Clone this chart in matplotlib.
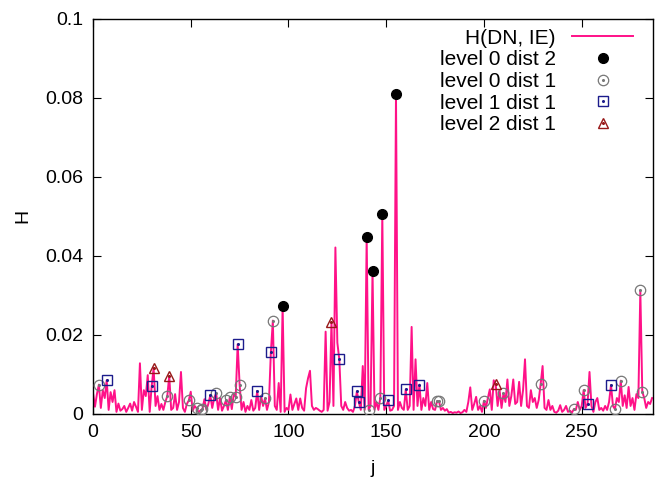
import matplotlib
matplotlib.use("Agg")
from matplotlib import pyplot as plt
from matplotlib.legend_handler import HandlerTuple
from matplotlib.ticker import FuncFormatter

plt.rcParams["font.family"] = ["Liberation Sans", "DejaVu Sans"]
plt.rcParams["font.size"] = 14

# H(DN, IE) for j = 0 .. 286
H = [
    0.0053, 0.0018, 0.0050, 0.0074, 0.0015, 0.0060, 0.0040, 0.0085, 0.0010, 0.0055,
    0.0030, 0.0060, 0.0005, 0.0026, 0.0008, 0.0012, 0.0020, 0.0005, 0.0015, 0.0026,
    0.0008, 0.0030, 0.0018, 0.0005, 0.0128, 0.0010, 0.0060, 0.0045, 0.0098, 0.0005,
    0.0070, 0.0116, 0.0020, 0.0045, 0.0010, 0.0025, 0.0010, 0.0030, 0.0045, 0.0096,
    0.0010, 0.0015, 0.0050, 0.0010, 0.0030, 0.0106, 0.0015, 0.0005, 0.0025, 0.0034,
    0.0056, 0.0008, 0.0020, 0.0014, 0.0004, 0.0009, 0.0012, 0.0037, 0.0010, 0.0025,
    0.0047, 0.0015, 0.0040, 0.0052, 0.0010, 0.0040, 0.0008, 0.0020, 0.0034, 0.0010,
    0.0043, 0.0012, 0.0050, 0.0043, 0.0176, 0.0074, 0.0010, 0.0030, 0.0005, 0.0020,
    0.0010, 0.0035, 0.0008, 0.0015, 0.0058, 0.0010, 0.0045, 0.0020, 0.0039, 0.0010,
    0.0030, 0.0157, 0.0236, 0.0020, 0.0010, 0.0078, 0.0005, 0.0273, 0.0005, 0.0015,
    0.0010, 0.0049, 0.0010, 0.0025, 0.0039, 0.0010, 0.0039, 0.0015, 0.0008, 0.0065,
    0.0090, 0.0109, 0.0020, 0.0010, 0.0015, 0.0012, 0.0008, 0.0005, 0.0010, 0.0208,
    0.0008, 0.0030, 0.0233, 0.0020, 0.0421, 0.0180, 0.0138, 0.0020, 0.0010, 0.0030,
    0.0015, 0.0008, 0.0010, 0.0005, 0.0020, 0.0057, 0.0029, 0.0010, 0.0121, 0.0010,
    0.0447, 0.0010, 0.0020, 0.0362, 0.0010, 0.0030, 0.0010, 0.0041, 0.0505, 0.0010,
    0.0020, 0.0034, 0.0008, 0.0010, 0.0020, 0.0809, 0.0010, 0.0030, 0.0015, 0.0010,
    0.0062, 0.0010, 0.0020, 0.0220, 0.0010, 0.0138, 0.0020, 0.0074, 0.0010, 0.0040,
    0.0020, 0.0078, 0.0010, 0.0030, 0.0012, 0.0010, 0.0032, 0.0032, 0.0010, 0.0015,
    0.0008, 0.0012, 0.0003, 0.0005, 0.0002, 0.0004, 0.0003, 0.0006, 0.0002, 0.0004,
    0.0010, 0.0005, 0.0030, 0.0067, 0.0010, 0.0025, 0.0043, 0.0010, 0.0020, 0.0005,
    0.0033, 0.0015, 0.0040, 0.0062, 0.0010, 0.0085, 0.0075, 0.0020, 0.0060, 0.0015,
    0.0052, 0.0030, 0.0087, 0.0020, 0.0045, 0.0087, 0.0025, 0.0030, 0.0081, 0.0020,
    0.0060, 0.0138, 0.0020, 0.0015, 0.0060, 0.0030, 0.0040, 0.0015, 0.0035, 0.0075,
    0.0121, 0.0015, 0.0010, 0.0035, 0.0010, 0.0020, 0.0005, 0.0003, 0.0008, 0.0022,
    0.0005, 0.0010, 0.0020, 0.0005, 0.0008, 0.0003, 0.0012, 0.0010, 0.0030, 0.0010,
    0.0020, 0.0060, 0.0015, 0.0026, 0.0106, 0.0020, 0.0005, 0.0030, 0.0040, 0.0010,
    0.0015, 0.0008, 0.0020, 0.0010, 0.0030, 0.0073, 0.0020, 0.0012, 0.0040, 0.0030,
    0.0084, 0.0020, 0.0047, 0.0015, 0.0068, 0.0020, 0.0040, 0.0010, 0.0050, 0.0040,
    0.0313, 0.0056, 0.0040, 0.0015, 0.0030, 0.0025, 0.0040,
]
j = list(range(len(H)))

# positions j of the marked points
level0_dist2 = [97, 140, 143, 148, 155]
level0_dist1 = [3, 38, 49, 53, 55, 56, 63, 68, 70, 73, 75, 88, 92, 141, 147,
                176, 177, 200, 210, 229, 246, 251, 267, 270, 280, 281]
level1_dist1 = [7, 30, 60, 74, 84, 91, 126, 135, 136, 151, 160, 167, 253, 265]
level2_dist1 = [31, 39, 122, 206]

x_ticks = [0, 50, 100, 150, 200, 250]
y_ticks = [0, 0.02, 0.04, 0.06, 0.08, 0.1]

fig = plt.figure(figsize=(6.55, 4.79), dpi=100)
ax = fig.add_axes([0.142, 0.136, 0.855, 0.825])

line, = ax.plot(j, H, color="#ff1188", lw=1.4, label="H(DN, IE)", zorder=2)


def pts(idx, **kw):
    ys = [H[i] for i in idx]
    return ax.plot(idx, ys, ls="none", zorder=3, **kw)[0]


p0 = pts(level0_dist2, marker="o", ms=7, color="black")
p1 = pts(level0_dist1, marker="o", ms=7.5, mfc="none", mec="#777777", mew=0.9)
p1d = pts(level0_dist1, marker="o", ms=1.2, color="#777777")
p2 = pts(level1_dist1, marker="s", ms=7, mfc="none", mec="#1c1c8c", mew=1.0)
p2d = pts(level1_dist1, marker="o", ms=1.2, color="#1c1c8c")
p3 = pts(level2_dist1, marker="^", ms=7.5, mfc="none", mec="#981818", mew=1.0)
p3d = pts(level2_dist1, marker="o", ms=1.2, color="#981818")

ax.set_xlim(0, 286.5)
ax.set_ylim(0, 0.1)
ax.set_xticks(x_ticks)
ax.set_yticks(y_ticks)
ax.yaxis.set_major_formatter(FuncFormatter(lambda v, p: "%g" % v))
ax.tick_params(direction="in", length=6, width=0.8, top=True, right=True, pad=7)
for s in ax.spines.values():
    s.set_linewidth(1.0)

ax.set_xlabel("j", labelpad=14)
ax.set_ylabel("H", labelpad=10)

# markerfirst=False right-aligns each row, so the labels end next to their samples
ax.legend(
    [line, p0, (p1, p1d), (p2, p2d), (p3, p3d)],
    ["H(DN, IE)", "level 0 dist 2", "level 0 dist 1", "level 1 dist 1", "level 2 dist 1"],
    handler_map={tuple: HandlerTuple(ndivide=1, pad=0)},
    loc="upper right", bbox_to_anchor=(0.99, 1.012), frameon=False,
    markerfirst=False, handlelength=2.9, handletextpad=0.8, labelspacing=0.13,
    borderpad=0.2, fontsize=15,
)

fig.savefig("out.png", dpi=100)
